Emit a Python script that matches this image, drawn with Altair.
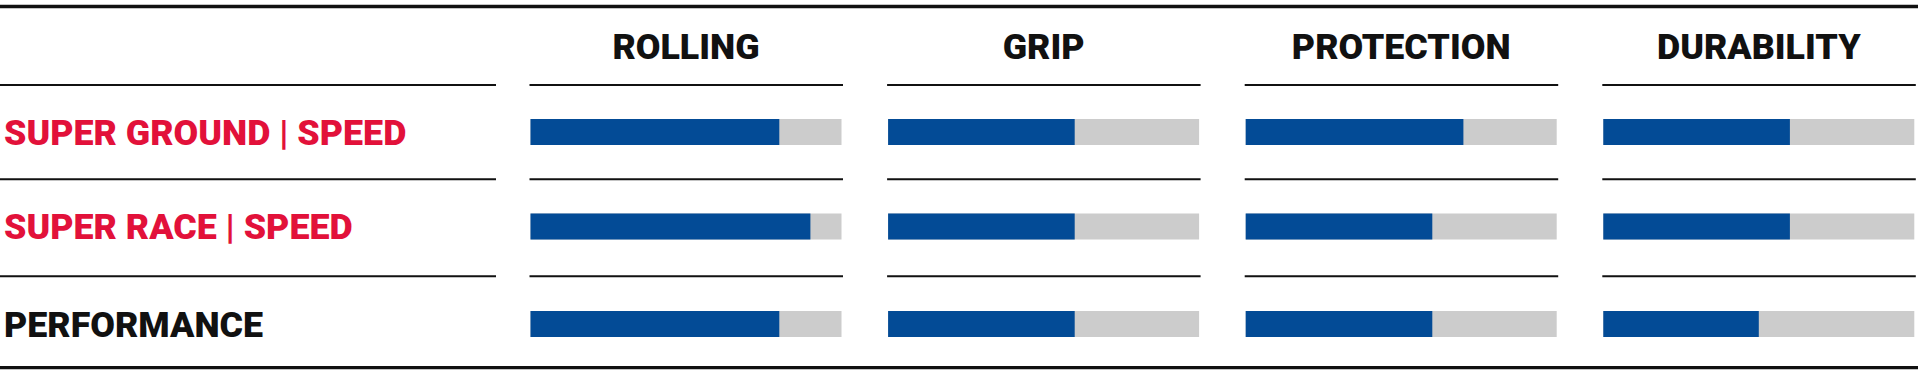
import altair as alt
import pandas as pd

# ---------------- data ----------------
metrics = ["ROLLING", "GRIP", "PROTECTION", "DURABILITY"]
products = ["SUPER GROUND | SPEED", "SUPER RACE | SPEED", "PERFORMANCE"]
rolling = [80, 90, 80]
grip = [60, 60, 60]
protection = [70, 60, 60]
durability = [60, 60, 50]
max_value = 100

# ---------------- layout / style ----------------
W, H = 1918, 376
COL_X0 = 530.5
COL_PITCH = 357.6
COL_W = 311
LABEL_X = 4
LABEL_COL_END = 496
ROW_CENTER = [132, 226.5, 324]
BAR_H = 26
HEADER_BASELINE = 59
SEPARATORS = [85, 179.3, 276.3]
TOP_LINE, BOTTOM_LINE = 6.5, 367.7
FONT = "Roboto"
FONT_SIZE = 35.8
FONT_WEIGHT = 900
BLUE = "#034b96"
GREY = "#cccccc"
RED = "#e2113a"
BLACK = "#111111"
product_colors = [RED, RED, BLACK]

values = {"ROLLING": rolling, "GRIP": grip, "PROTECTION": protection, "DURABILITY": durability}

bar_rows = []
for ci, m in enumerate(metrics):
    x0 = COL_X0 + ci * COL_PITCH
    for ri, p in enumerate(products):
        v = values[m][ri]
        yc = ROW_CENTER[ri]
        bar_rows.append({
            "metric": m, "product": p, "value": v,
            "x0": x0, "xfull": x0 + COL_W,
            "xval": x0 + COL_W * v / max_value,
            "y0": yc - BAR_H / 2, "y1": yc + BAR_H / 2,
        })
bars = pd.DataFrame(bar_rows)

headers = pd.DataFrame({
    "metric": metrics,
    "x": [COL_X0 + i * COL_PITCH + COL_W / 2 for i in range(len(metrics))],
    "y": [HEADER_BASELINE] * len(metrics),
})

labels = pd.DataFrame({
    "product": products,
    "x": [LABEL_X] * len(products),
    "y": [c + 12.5 for c in ROW_CENTER],
})

seg_rows = []
for y in SEPARATORS:
    seg_rows.append({"x0": 0, "x1": LABEL_COL_END, "y": y})
    for ci in range(len(metrics)):
        x0 = COL_X0 + ci * COL_PITCH
        seg_rows.append({"x0": x0 - 1, "x1": x0 + COL_W + 1.5, "y": y})
segs = pd.DataFrame(seg_rows)

frame = pd.DataFrame({"x0": [0, 0], "x1": [W, W], "y": [TOP_LINE, BOTTOM_LINE]})

xs = alt.Scale(domain=[0, W], nice=False, zero=False)
ys = alt.Scale(domain=[0, H], nice=False, zero=False, reverse=True)

grey_bars = alt.Chart(bars).mark_rect(color=GREY).encode(
    x=alt.X("x0:Q", scale=xs, axis=None),
    x2="xfull:Q",
    y=alt.Y("y0:Q", scale=ys, axis=None),
    y2="y1:Q",
)
blue_bars = alt.Chart(bars).mark_rect(color=BLUE).encode(
    x=alt.X("x0:Q", scale=xs, axis=None),
    x2="xval:Q",
    y=alt.Y("y0:Q", scale=ys, axis=None),
    y2="y1:Q",
    tooltip=["product:N", "metric:N", "value:Q"],
)
header_text = alt.Chart(headers).mark_text(
    font=FONT, fontSize=FONT_SIZE, fontWeight=FONT_WEIGHT, color=BLACK,
    align="center", baseline="alphabetic",
).encode(
    x=alt.X("x:Q", scale=xs, axis=None),
    y=alt.Y("y:Q", scale=ys, axis=None),
    text="metric:N",
)
label_text = alt.Chart(labels).mark_text(
    font=FONT, fontSize=FONT_SIZE, fontWeight=FONT_WEIGHT,
    align="left", baseline="alphabetic",
).encode(
    x=alt.X("x:Q", scale=xs, axis=None),
    y=alt.Y("y:Q", scale=ys, axis=None),
    text="product:N",
    color=alt.Color("product:N", scale=alt.Scale(domain=products, range=product_colors), legend=None),
)
sep_rules = alt.Chart(segs).mark_rule(color=BLACK, strokeWidth=2).encode(
    x=alt.X("x0:Q", scale=xs, axis=None),
    x2="x1:Q",
    y=alt.Y("y:Q", scale=ys, axis=None),
)
frame_rules = alt.Chart(frame).mark_rule(color=BLACK, strokeWidth=3.3).encode(
    x=alt.X("x0:Q", scale=xs, axis=None),
    x2="x1:Q",
    y=alt.Y("y:Q", scale=ys, axis=None),
)

chart = alt.layer(
    grey_bars, blue_bars, sep_rules, frame_rules, header_text, label_text
).properties(
    width=W, height=H, padding=0,
    autosize=alt.AutoSizeParams(type="none"),
    background="white",
).configure_view(stroke=None)

chart.save("out.html", embed_options={"renderer": "svg", "actions": False})
